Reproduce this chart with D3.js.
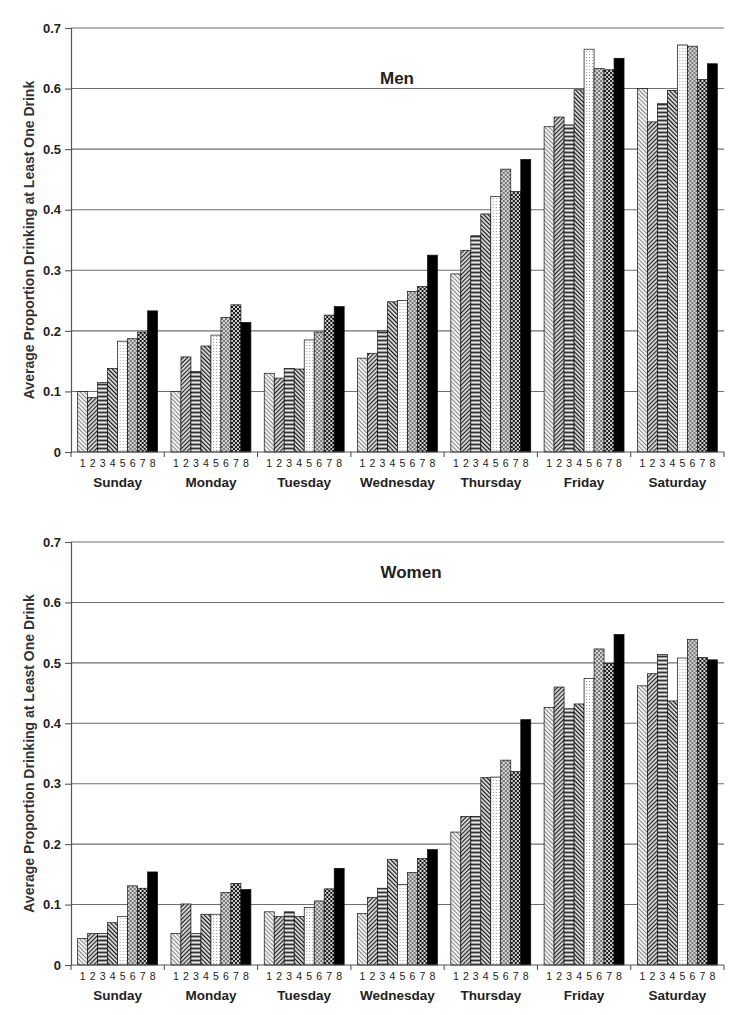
<!DOCTYPE html>
<html>
<head>
<meta charset="utf-8">
<script src="https://cdn.jsdelivr.net/npm/d3@7"></script>
<style>
  html, body { margin: 0; padding: 0; background: #fff; }
  svg { display: block; font-family: "Liberation Sans", Arial, sans-serif; }
</style>
</head>
<body>
<svg id="chart" width="737" height="1015"></svg>
<script>
const days = ["Sunday", "Monday", "Tuesday", "Wednesday", "Thursday", "Friday", "Saturday"];
const series = ["1", "2", "3", "4", "5", "6", "7", "8"];
const yTicks = [0, 0.1, 0.2, 0.3, 0.4, 0.5, 0.6, 0.7];
const yTickLabels = ["0", "0.1", "0.2", "0.3", "0.4", "0.5", "0.6", "0.7"];
const yTitle = "Average Proportion Drinking at Least One Drink";

// rows = days, columns = series 1..8
const menValues = [
  [0.100, 0.090, 0.115, 0.138, 0.183, 0.187, 0.198, 0.233],
  [0.100, 0.157, 0.133, 0.175, 0.193, 0.222, 0.243, 0.214],
  [0.130, 0.122, 0.138, 0.137, 0.185, 0.198, 0.226, 0.240],
  [0.155, 0.163, 0.200, 0.248, 0.250, 0.265, 0.273, 0.325],
  [0.294, 0.333, 0.357, 0.393, 0.422, 0.467, 0.430, 0.483],
  [0.537, 0.553, 0.540, 0.598, 0.665, 0.633, 0.631, 0.650],
  [0.600, 0.545, 0.575, 0.597, 0.672, 0.670, 0.615, 0.641]
];
const womenValues = [
  [0.044, 0.052, 0.052, 0.070, 0.080, 0.131, 0.127, 0.154],
  [0.052, 0.101, 0.052, 0.084, 0.084, 0.120, 0.135, 0.125],
  [0.088, 0.080, 0.088, 0.080, 0.095, 0.106, 0.126, 0.160],
  [0.085, 0.112, 0.127, 0.175, 0.133, 0.153, 0.176, 0.191],
  [0.220, 0.246, 0.246, 0.310, 0.311, 0.339, 0.320, 0.406],
  [0.426, 0.460, 0.424, 0.432, 0.474, 0.523, 0.499, 0.547],
  [0.462, 0.482, 0.514, 0.437, 0.508, 0.539, 0.509, 0.505]
];

const svg = d3.select("#chart");
const defs = svg.append("defs");

// ---- fill patterns for the 8 series ----
function hatch(id, angle, color, bg, spacing, sw) {
  const p = defs.append("pattern").attr("id", id)
    .attr("patternUnits", "userSpaceOnUse")
    .attr("width", spacing).attr("height", spacing)
    .attr("patternTransform", `rotate(${angle})`);
  p.append("rect").attr("width", spacing).attr("height", spacing).attr("fill", bg);
  p.append("line").attr("x1", 0.5).attr("y1", 0).attr("x2", 0.5).attr("y2", spacing)
    .attr("stroke", color).attr("stroke-width", sw);
}
function dots(id, size, r, color, bg, checker) {
  const p = defs.append("pattern").attr("id", id)
    .attr("patternUnits", "userSpaceOnUse")
    .attr("width", size).attr("height", size);
  p.append("rect").attr("width", size).attr("height", size).attr("fill", bg);
  p.append("rect").attr("x", 0).attr("y", 0).attr("width", r).attr("height", r).attr("fill", color);
  if (checker) p.append("rect").attr("x", size / 2).attr("y", size / 2).attr("width", r).attr("height", r).attr("fill", color);
}
hatch("p1", -45, "#8a8a8a", "#f4f4f4", 3, 1.1);
hatch("p2", 45, "#222", "#d8d8d8", 3, 1.2);
(function () {
  const p = defs.append("pattern").attr("id", "p3")
    .attr("patternUnits", "userSpaceOnUse").attr("width", 4).attr("height", 4);
  p.append("rect").attr("width", 4).attr("height", 4).attr("fill", "#9a9a9a");
  p.append("rect").attr("y", 0).attr("width", 4).attr("height", 1).attr("fill", "#333");
  p.append("rect").attr("y", 2).attr("width", 4).attr("height", 1).attr("fill", "#e8e8e8");
})();
hatch("p4", -45, "#111", "#e0e0e0", 3, 1.3);
dots("p5", 3, 1, "#9a9a9a", "#ffffff", false);
dots("p6", 4, 2, "#777", "#d6d6d6", true);
dots("p7", 4, 2, "#d0d0d0", "#1a1a1a", true);
const fills = ["url(#p1)", "url(#p2)", "url(#p3)", "url(#p4)", "url(#p5)", "url(#p6)", "url(#p7)", "#000"];

const left = 71, right = 724;

const x0 = d3.scaleBand().domain(days).range([left, right])
  .paddingInner(0.143).paddingOuter(0.0715);
const x1 = d3.scaleBand().domain(series).range([0, x0.bandwidth()]).padding(0);
const boundaries = d3.range(days.length + 1).map(i => left + i * x0.step());

function drawPanel(title, values, top, bottom, titleX, titleY) {
  const y = d3.scaleLinear().domain([0, 0.7]).range([bottom, top]);
  const g = svg.append("g");

  // gridlines
  g.append("g").selectAll("line").data(yTicks.filter(d => d > 0)).join("line")
    .attr("x1", left).attr("x2", right)
    .attr("y1", d => y(d)).attr("y2", d => y(d))
    .attr("stroke", "#6e6e6e").attr("stroke-width", 1.1);

  // bars
  const grp = g.append("g").selectAll("g").data(days).join("g")
    .attr("transform", d => `translate(${x0(d)},0)`);
  grp.selectAll("rect").data((d, i) => values[i].map((v, j) => ({ s: series[j], v, j })))
    .join("rect")
    .attr("x", d => x1(d.s))
    .attr("width", x1.bandwidth())
    .attr("y", d => y(d.v))
    .attr("height", d => y(0) - y(d.v))
    .attr("fill", d => fills[d.j])
    .attr("stroke", "#111").attr("stroke-width", 0.7);

  // y axis
  const yAxis = d3.axisLeft(y).tickValues(yTicks)
    .tickFormat((d, i) => yTickLabels[i]).tickSize(6).tickPadding(4);
  const ya = g.append("g").attr("transform", `translate(${left},0)`).call(yAxis);
  ya.select(".domain").attr("stroke", "#555").attr("stroke-width", 1.2);
  ya.selectAll(".tick line").attr("stroke", "#555").attr("stroke-width", 1.1);
  ya.selectAll(".tick text").attr("font-size", 13).attr("font-weight", "bold")
    .attr("fill", "#222").attr("font-family", "Liberation Sans, Arial, sans-serif");

  // x baseline with group-boundary ticks
  g.append("line").attr("x1", left).attr("x2", right)
    .attr("y1", y(0)).attr("y2", y(0)).attr("stroke", "#555").attr("stroke-width", 1.2);
  g.append("g").selectAll("line").data(boundaries).join("line")
    .attr("x1", d => d).attr("x2", d => d)
    .attr("y1", y(0)).attr("y2", y(0) + 5)
    .attr("stroke", "#555").attr("stroke-width", 1.1);

  // series numbers
  grp.selectAll("text.num").data(series).join("text").attr("class", "num")
    .attr("x", d => x1(d) + x1.bandwidth() / 2)
    .attr("y", y(0) + 15)
    .attr("text-anchor", "middle").attr("font-size", 10.5).attr("fill", "#222")
    .text(d => d);

  // day labels
  grp.append("text")
    .attr("x", x0.bandwidth() / 2).attr("y", y(0) + 35)
    .attr("text-anchor", "middle").attr("font-size", 13.5).attr("font-weight", "bold")
    .attr("fill", "#222")
    .text(d => d);

  // title
  g.append("text").attr("x", titleX).attr("y", titleY)
    .attr("text-anchor", "middle").attr("font-size", 17).attr("font-weight", "bold")
    .attr("fill", "#222").text(title);

  // y title
  g.append("text")
    .attr("transform", `translate(34,${(top + bottom) / 2}) rotate(-90)`)
    .attr("text-anchor", "middle").attr("font-size", 14).attr("font-weight", "bold")
    .attr("fill", "#333").text(yTitle);
}

drawPanel("Men", menValues, 28, 452, 397, 84);
drawPanel("Women", womenValues, 542, 965, 411, 578);
</script>
</body>
</html>
